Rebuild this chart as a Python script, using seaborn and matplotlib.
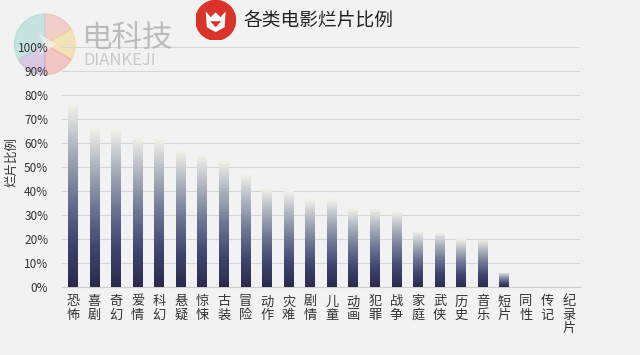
import numpy as np
import pandas as pd
import matplotlib
matplotlib.use("Agg")
import matplotlib.pyplot as plt
import seaborn as sns
from matplotlib.colors import LinearSegmentedColormap
from matplotlib.patches import Wedge, Circle, Polygon, Rectangle

# 数据
categories = ["恐怖", "喜剧", "奇幻", "爱情", "科幻", "悬疑", "惊悚", "古装", "冒险", "动作",
              "灾难", "剧情", "儿童", "动画", "犯罪", "战争", "家庭", "武侠", "历史", "音乐",
              "短片", "同性", "传记", "纪录片"]
ratios = [0.76, 0.66, 0.657, 0.624, 0.62, 0.57, 0.55, 0.526, 0.467, 0.41,
          0.40, 0.365, 0.365, 0.328, 0.326, 0.314, 0.23, 0.227, 0.199, 0.196,
          0.06, 0.0, 0.0, 0.0]
yticks = [i / 10 for i in range(11)]
ytick_labels = [f"{i * 10}%" for i in range(11)]

sns.set_style("white")
plt.rcParams["font.family"] = ["Noto Sans CJK SC", "DejaVu Sans"]

bg = "#f2f2f2"
fig = plt.figure(figsize=(6.4, 3.55), dpi=100, facecolor=bg)

# 水印 (画在底层)
wax = fig.add_axes([0.015, 0.785, 0.11, 0.18])
wax.set_zorder(0)
wax.set_xlim(-1, 1)
wax.set_ylim(-1, 1)
wax.set_aspect("equal")
wax.axis("off")
pie_colors = ["#f2b6b0", "#f5d894", "#f1a9a6", "#c7acd6", "#a9d9d6"]
angles = [(30, 90), (-30, 30), (-90, -30), (-150, -90), (90, 210)]
for (a0, a1), c in zip(angles, pie_colors):
    wax.add_patch(Wedge((0, 0), 0.95, a0, a1, color=c, alpha=0.6))
wax.add_patch(Polygon([(-0.2, 0.35), (0.35, 0.0), (-0.2, -0.35), (0.0, 0.0)],
                      closed=True, facecolor=bg, edgecolor="none", alpha=0.8))

ax = fig.add_axes([0.097, 0.1915, 0.809, 0.676], facecolor="none")
ax.set_zorder(1)

df = pd.DataFrame({"类型": categories, "比例": ratios})
sns.barplot(data=df, x="类型", y="比例", ax=ax, width=0.45, color="#4a5278",
            edgecolor="none", zorder=2)

# 渐变填充
cmap = LinearSegmentedColormap.from_list(
    "bar", ["#2c2a4c", "#3f4670", "#6c7694", "#aab0bd", "#f3f2ea"])
grad = np.linspace(0, 1, 256).reshape(-1, 1)
for p in ax.patches:
    h = p.get_height()
    if h <= 0:
        continue
    x0 = p.get_x()
    w = p.get_width()
    im = ax.imshow(grad, cmap=cmap, aspect="auto", origin="lower",
                   extent=[x0, x0 + w, 0, h], zorder=3)
    im.set_clip_path(p)
    p.set_alpha(0)

ax.set_xlim(-0.5, len(categories) - 0.5)
ax.set_ylim(0, 1.0)
ax.set_yticks(yticks)
ax.set_yticklabels(ytick_labels, fontsize=8.5, color="#333333")
ax.set_xticks(range(len(categories)))
ax.set_xticklabels(["\n".join(c) for c in categories], fontsize=9.5,
                   color="#333333", linespacing=1.05, va="top")
ax.tick_params(axis="both", length=0)
ax.tick_params(axis="y", pad=10)
ax.tick_params(axis="x", pad=6)
ax.grid(axis="y", color="#d6d6d6", linewidth=0.8, zorder=0)
ax.set_axisbelow(True)
for s in ["top", "right", "left"]:
    ax.spines[s].set_visible(False)
ax.spines["bottom"].set_color("#cccccc")
ax.set_xlabel("")
ax.set_ylabel("烂片比例", fontsize=9, color="#333333", labelpad=6)
ax.yaxis.set_label_coords(-0.085, 0.52)

# 标题
fig.text(0.381, 0.944, "各类电影烂片比例", fontsize=13.5, color="#222222",
         ha="left", va="center")

# 红色圆形标志
lax = fig.add_axes([0.306, 0.887, 0.062, 0.112])
lax.set_xlim(-1, 1)
lax.set_ylim(-1, 1)
lax.set_aspect("equal")
lax.axis("off")
lax.add_patch(Circle((0, 0), 1.0, color="#d9342b"))
lax.add_patch(Polygon([(-0.5, 0.45), (-0.25, 0.15), (0, 0.4), (0.25, 0.15), (0.5, 0.45),
                       (0.45, -0.35), (0, -0.6), (-0.45, -0.35)],
                      closed=True, facecolor="white", edgecolor="none"))
lax.add_patch(Polygon([(-0.28, -0.05), (0.28, -0.05), (0, -0.35)],
                      closed=True, facecolor="#d9342b", edgecolor="none"))

fig.text(0.127, 0.893, "电科技", fontsize=22, color="#b3b3b3", ha="left",
         va="center", alpha=0.85, zorder=5)
fig.text(0.130, 0.83, "DIANKEJI", fontsize=12, color="#c2c2c2", ha="left",
         va="center", alpha=0.85, fontweight="light", zorder=5)

plt.savefig("out.png", dpi=100, facecolor=bg)
plt.close()
